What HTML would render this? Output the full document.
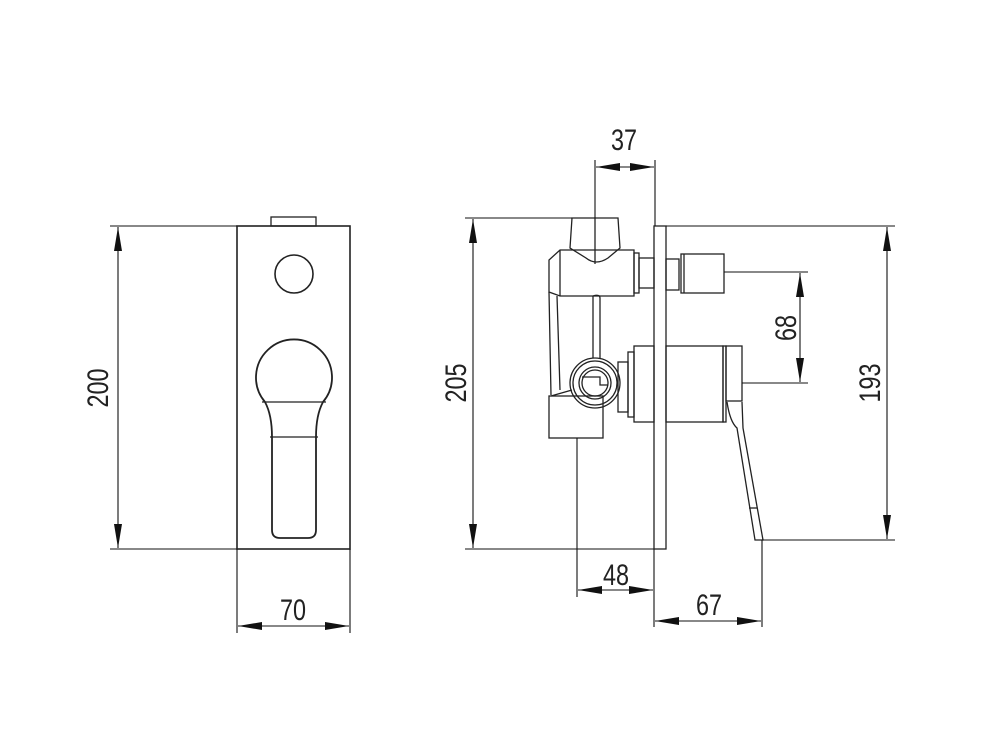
<!DOCTYPE html>
<html><head><meta charset="utf-8"><style>
html,body{margin:0;padding:0;background:#fff;}
svg{display:block}
text{font-family:"Liberation Sans",sans-serif;font-size:30px;fill:#222;}
</style></head><body>
<svg width="1000" height="750" viewBox="0 0 1000 750" xmlns="http://www.w3.org/2000/svg">
<defs>
<marker id="a" viewBox="0 0 24 8" refX="24" refY="4" markerWidth="24" markerHeight="8" markerUnits="userSpaceOnUse" orient="auto-start-reverse"><path d="M0,0 L24,4 L0,8 z" fill="#111"/></marker>
</defs>
<g fill="none" stroke="#222" stroke-width="1.3">
<rect x="237" y="226" width="113" height="323" stroke-width="1.6"/>
<rect x="271" y="217" width="45" height="9"/>
<circle cx="294" cy="274" r="19" stroke-width="1.6"/>
<path d="M265,402 A38,38 0 1 1 323,402 Q316,415 316,437 L316,530 Q316,538 308,538 L280,538 Q272,538 272,530 L272,437 Q272,415 265,402 Z" stroke-width="1.8"/>
<line x1="262" y1="402" x2="326" y2="402"/>
<line x1="270" y1="437" x2="318" y2="437"/>
<rect x="654" y="226" width="12" height="323"/>
<path d="M572,218 L618,218 L620,248 L608,258 Q596,266 586,258 L570,248 Z"/>
<line x1="595" y1="218" x2="595" y2="264"/>
<path d="M560,250 L634,250 L634,296 L560,296 L549,292 L549,260 Z"/>
<path d="M560,250 L560,296"/>
<rect x="634" y="253" width="5" height="40"/>
<rect x="639" y="258" width="15" height="30"/>
<rect x="666" y="259" width="13" height="31"/>
<rect x="681" y="254" width="43" height="39"/>
<line x1="684" y1="254" x2="684" y2="293"/>
<path d="M549,292 L551,395 M557,296 L560,390"/>
<path d="M593,296 L593,358 M600,298 L600,358"/>
<path d="M593,296 Q600,294 600,298"/>
<circle cx="595" cy="383" r="25"/>
<circle cx="595" cy="383" r="22"/>
<circle cx="595" cy="383" r="16"/>
<circle cx="595" cy="383" r="13"/>
<path d="M582,377 L600,377 L600,385 L608,385"/>
<rect x="549" y="396" width="54" height="42"/>
<path d="M551,396 L572,390"/>
<rect x="618" y="362" width="10" height="50"/>
<rect x="628" y="352" width="6" height="65"/>
<rect x="634" y="346" width="20" height="76"/>
<rect x="666" y="346" width="57" height="76"/>
<rect x="723" y="346" width="3" height="76"/>
<rect x="726" y="346" width="16" height="55"/>
<path d="M727,402 Q730,422 737,428 L755,540 L763,540 L743,428 L742,402"/>
<line x1="749" y1="508" x2="757" y2="508"/>
</g>
<g stroke="#111" stroke-width="1.1" fill="none">
<line x1="110" y1="226" x2="237" y2="226"/><line x1="110" y1="549" x2="237" y2="549"/>
<line x1="118" y1="227" x2="118" y2="548" marker-start="url(#a)" marker-end="url(#a)"/>
<line x1="237" y1="549" x2="237" y2="633"/><line x1="350" y1="549" x2="350" y2="633"/>
<line x1="238" y1="626" x2="349" y2="626" marker-start="url(#a)" marker-end="url(#a)"/>
<line x1="465" y1="218" x2="572" y2="218"/><line x1="465" y1="549" x2="654" y2="549"/>
<line x1="473" y1="219" x2="473" y2="548" marker-start="url(#a)" marker-end="url(#a)"/>
<line x1="595" y1="160" x2="595" y2="218"/><line x1="655" y1="160" x2="655" y2="226"/>
<line x1="596" y1="167" x2="654" y2="167" marker-start="url(#a)" marker-end="url(#a)"/>
<line x1="666" y1="226" x2="895" y2="226"/><line x1="762" y1="540" x2="895" y2="540"/>
<line x1="887" y1="227" x2="887" y2="539" marker-start="url(#a)" marker-end="url(#a)"/>
<line x1="724" y1="272" x2="808" y2="272"/><line x1="742" y1="383" x2="808" y2="383"/>
<line x1="800" y1="273" x2="800" y2="382" marker-start="url(#a)" marker-end="url(#a)"/>
<line x1="577" y1="438" x2="577" y2="597"/><line x1="654" y1="549" x2="654" y2="627"/>
<line x1="578" y1="590" x2="653" y2="590" marker-start="url(#a)" marker-end="url(#a)"/>
<line x1="762" y1="540" x2="762" y2="627"/>
<line x1="655" y1="621" x2="761" y2="621" marker-start="url(#a)" marker-end="url(#a)"/>
</g>
<g text-anchor="middle">
<text transform="translate(624,150) scale(0.78,1)">37</text>
<text transform="translate(293,620) scale(0.78,1)">70</text>
<text transform="translate(616,585) scale(0.78,1)">48</text>
<text transform="translate(709,615) scale(0.78,1)">67</text>
<text transform="translate(108,388) rotate(-90) scale(0.78,1)">200</text>
<text transform="translate(466,383) rotate(-90) scale(0.78,1)">205</text>
<text transform="translate(880,383) rotate(-90) scale(0.78,1)">193</text>
<text transform="translate(796,328) rotate(-90) scale(0.78,1)">68</text>
</g>
</svg>
</body></html>
